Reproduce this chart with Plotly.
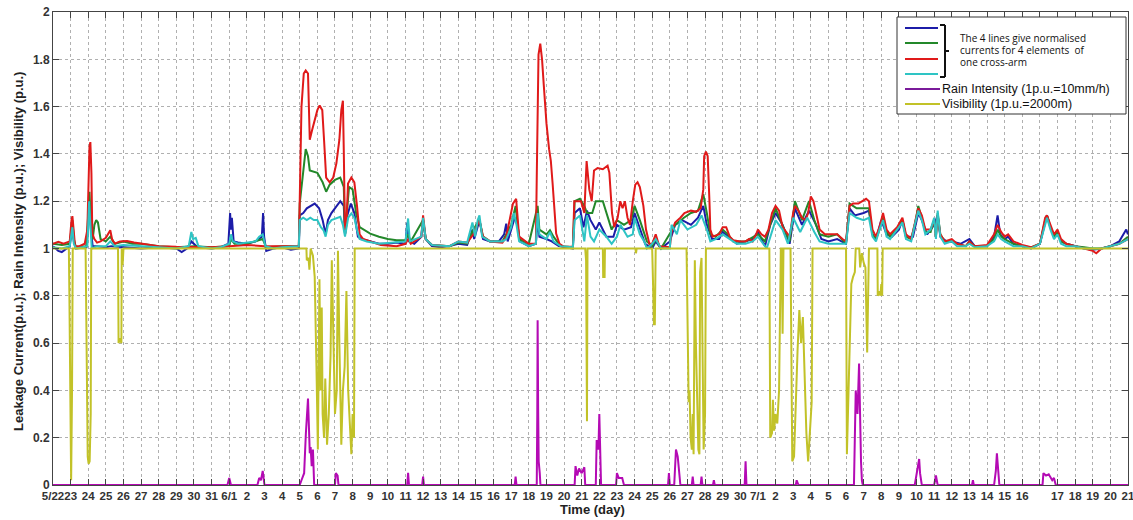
import plotly.graph_objects as go

# ---------------- tick labels (day index 0 = 5/22) ----------------
tick_text = (["5/22"] + [str(d) for d in range(23, 32)] + ["6/1"] +
             [str(d) for d in range(2, 31)] + ["7/1"] +
             [str(d) for d in range(2, 17)] + [""] + [str(d) for d in range(17, 22)])
tick_vals = list(range(len(tick_text)))

y_tick_vals = [0, 0.2, 0.4, 0.6, 0.8, 1.0, 1.2, 1.4, 1.6, 1.8, 2.0]
y_tick_text = ["0", "0.2", "0.4", "0.6", "0.8", "1", "1.2", "1.4", "1.6", "1.8", "2"]

# ---------------- series (day index, value) ----------------
blue_day = [0.0, 0.3, 0.5, 0.8, 0.95, 1.05, 1.1, 1.18, 1.3, 1.9, 2.0, 2.07, 2.15, 2.25, 2.5, 3.0, 3.3, 4.0, 5.0, 6.0,
            7.0, 7.3, 7.6, 7.85, 8.2, 9.0, 9.5, 9.95, 10.05, 10.1, 10.15, 10.25, 10.5, 11.0, 11.5, 11.85, 11.92,
            11.98, 12.1, 12.5, 13.0, 13.5, 13.95, 14.0, 14.2, 14.4, 14.6, 14.85, 15.1, 15.3, 15.47, 15.6, 15.8,
            16.0, 16.3, 16.5, 16.57, 16.7, 16.9, 17.1, 17.3, 17.5, 18.0, 18.5, 19.0, 19.5, 20.0, 20.1, 20.2, 20.5,
            20.9, 21.0, 21.15, 21.5, 22.0, 22.5, 23.0, 23.5, 23.8, 23.9, 24.2, 24.4, 24.8, 25.3, 25.6, 25.72, 25.8,
            26.0, 26.2, 26.35, 26.5, 27.0, 27.4, 27.5, 27.6, 28.0, 28.3, 28.7, 29.5, 29.6, 29.9, 30.1, 30.3, 30.5,
            30.8, 31.0, 31.4, 31.8, 32.0, 32.4, 32.8, 33.0, 33.3, 33.6, 34.0, 34.2, 34.5, 35.0, 35.3, 35.7, 36.2,
            36.6, 36.9, 37.1, 37.4, 37.8, 38.0, 38.3, 38.8, 39.3, 39.7, 40.0, 40.4, 40.7, 41.0, 41.4, 41.8, 42.1,
            42.5, 42.9, 43.3, 43.6, 44.0, 44.5, 45.0, 45.2, 45.5, 46.0, 46.3, 46.5, 46.7, 47.0, 47.3, 47.6, 48.0,
            48.2, 48.4, 48.8, 49.1, 49.3, 49.6, 50.0, 50.2, 50.35, 50.7, 51.0, 51.5, 52.0, 52.3, 53.0, 53.4, 53.6,
            53.75, 54.0, 54.2, 54.5, 55.0, 55.5, 56.0, 56.3, 56.4, 56.6, 56.8, 57.0, 57.2, 57.5, 58.0, 58.5, 59.0,
            59.5, 60.0, 60.5, 60.9, 61.0]
blue_val = [1.01, 0.99, 0.985, 1.0, 1.01, 1.07, 1.1, 1.03, 1.0, 1.005, 1.12, 1.19, 1.08, 1.01, 1.01, 1.005, 1.01,
            1.005, 1.0, 1.005, 1.0, 0.985, 1.0, 1.03, 1.005, 1.0, 1.005, 1.02, 1.15, 1.08, 1.13, 1.03, 1.025, 1.02,
            1.03, 1.05, 1.15, 1.05, 0.99, 1.0, 1.005, 0.995, 1.0, 1.14, 1.15, 1.17, 1.18, 1.19, 1.17, 1.12, 1.06,
            1.12, 1.15, 1.17, 1.2, 1.18, 1.06, 1.14, 1.19, 1.15, 1.05, 1.04, 1.03, 1.02, 1.02, 1.025, 1.02, 1.11,
            1.03, 1.02, 1.05, 1.12, 1.04, 1.01, 1.005, 1.01, 1.02, 1.015, 1.08, 1.04, 1.12, 1.04, 1.03, 1.03, 1.06,
            1.105, 1.03, 1.08, 1.13, 1.1, 1.03, 1.01, 1.02, 1.12, 1.05, 1.04, 1.03, 1.01, 1.0, 1.15, 1.17, 1.09,
            1.16, 1.12, 1.08, 1.11, 1.05, 1.05, 1.1, 1.08, 1.09, 1.15, 1.08, 1.02, 1.0, 1.03, 1.0, 1.03, 1.1, 1.12,
            1.1, 1.13, 1.18, 1.1, 1.04, 1.04, 1.07, 1.05, 1.02, 1.03, 1.04, 1.07, 1.01, 1.1, 1.15, 1.1, 1.02, 1.17,
            1.1, 1.16, 1.1, 1.04, 1.03, 1.04, 1.02, 1.17, 1.14, 1.15, 1.16, 1.06, 1.04, 1.12, 1.06, 1.05, 1.08,
            1.12, 1.05, 1.05, 1.15, 1.12, 1.06, 1.1, 1.14, 1.05, 1.03, 1.03, 1.02, 1.04, 1.01, 1.01, 1.05, 1.14,
            1.06, 1.04, 1.05, 1.02, 1.01, 1.0, 1.02, 1.12, 1.14, 1.09, 1.05, 1.07, 1.03, 1.02, 1.01, 1.0, 0.995,
            1.0, 1.01, 1.03, 1.08, 1.06]

green_day = [0.0, 0.5, 0.95, 1.05, 1.1, 1.18, 1.3, 1.9, 2.0, 2.07, 2.15, 2.25, 2.35, 2.45, 2.55, 2.7, 3.0, 3.25,
             3.5, 4.0, 4.5, 5.0, 6.0, 7.0, 8.0, 9.0, 10.0, 10.1, 10.3, 11.0, 11.9, 12.1, 13.0, 13.95, 14.0, 14.2,
             14.34, 14.47, 14.57, 15.0, 15.3, 15.5, 15.7, 16.0, 16.3, 16.5, 16.57, 16.65, 16.8, 17.0, 17.2, 17.4,
             17.6, 18.0, 18.5, 19.0, 19.5, 20.0, 20.15, 20.3, 21.0, 21.15, 21.5, 22.5, 23.0, 23.5, 23.85, 24.2,
             24.4, 24.8, 25.5, 25.72, 26.0, 26.25, 26.45, 27.0, 27.5, 27.6, 28.0, 28.2, 28.4, 28.8, 29.5, 29.6,
             29.9, 30.15, 30.3, 30.6, 30.8, 31.2, 31.4, 31.7, 32.0, 32.4, 32.8, 33.0, 33.3, 33.7, 34.0, 34.2,
             34.5, 35.0, 35.3, 35.8, 36.2, 36.6, 36.9, 37.1, 37.3, 37.6, 38.0, 38.3, 38.6, 39.3, 40.0, 40.4,
             41.0, 41.5, 41.8, 42.1, 42.5, 42.9, 43.2, 43.5, 44.0, 44.5, 45.0, 45.2, 45.6, 46.0, 46.3, 46.5,
             46.7, 46.9, 47.1, 47.3, 47.5, 47.9, 48.2, 48.4, 48.7, 48.9, 49.1, 49.3, 49.5, 49.8, 50.0, 50.1,
             50.2, 50.35, 50.6, 51.0, 51.3, 51.8, 52.0, 52.3, 53.0, 53.4, 53.6, 53.8, 54.0, 54.5, 55.0, 55.5,
             56.0, 56.3, 56.4, 56.6, 56.8, 57.0, 57.2, 57.5, 58.0, 58.5, 59.0, 59.5, 60.0, 60.5, 61.0]
green_val = [1.02, 1.015, 1.02, 1.08, 1.12, 1.04, 1.005, 1.01, 1.15, 1.24, 1.1, 1.04, 1.1, 1.12, 1.11, 1.04, 1.03,
             1.05, 1.02, 1.03, 1.02, 1.02, 1.01, 1.005, 1.01, 1.005, 1.01, 1.04, 1.02, 1.02, 1.04, 1.005, 1.01,
             1.01, 1.19, 1.32, 1.42, 1.39, 1.33, 1.32, 1.28, 1.24, 1.27, 1.29, 1.3, 1.26, 1.06, 1.13, 1.26, 1.25,
             1.15, 1.09, 1.08, 1.063, 1.05, 1.04, 1.035, 1.035, 1.06, 1.03, 1.12, 1.04, 1.015, 1.01, 1.025, 1.02,
             1.08, 1.12, 1.05, 1.03, 1.03, 1.06, 1.1, 1.18, 1.04, 1.02, 1.18, 1.08, 1.06, 1.077, 1.05, 1.01, 1.005,
             1.2, 1.21, 1.18, 1.15, 1.15, 1.2, 1.2, 1.15, 1.08, 1.12, 1.1, 1.12, 1.18, 1.12, 1.03, 1.01, 1.04,
             1.0, 1.06, 1.1, 1.13, 1.15, 1.16, 1.23, 1.15, 1.06, 1.05, 1.08, 1.06, 1.03, 1.03, 1.06, 1.03, 1.17,
             1.08, 1.03, 1.2, 1.12, 1.2, 1.12, 1.06, 1.05, 1.06, 1.02, 1.19, 1.17, 1.17, 1.17, 1.06, 1.04, 1.08,
             1.13, 1.07, 1.05, 1.08, 1.12, 1.05, 1.04, 1.1, 1.18, 1.13, 1.07, 1.07, 1.12, 1.05, 1.15, 1.06, 1.03,
             1.03, 1.02, 1.01, 1.03, 1.01, 1.01, 1.04, 1.08, 1.05, 1.04, 1.02, 1.01, 1.005, 1.02, 1.12, 1.14,
             1.09, 1.05, 1.07, 1.03, 1.02, 1.01, 1.005, 1.0, 1.0, 1.01, 1.02, 1.05]

red_day = [0.0, 0.3, 0.6, 0.95, 1.05, 1.1, 1.17, 1.25, 1.5, 1.8, 1.95, 2.0, 2.07, 2.12, 2.18, 2.23, 2.35, 2.5, 2.7,
           3.0, 3.15, 3.25, 3.35, 3.5, 3.8, 4.2, 4.6, 5.0, 5.5, 6.0, 7.0, 9.0, 10.0, 11.0, 12.0, 13.95, 14.0,
           14.1, 14.23, 14.34, 14.47, 14.57, 14.7, 14.85, 15.0, 15.13, 15.28, 15.38, 15.5, 15.7, 15.9, 16.08,
           16.25, 16.36, 16.45, 16.5, 16.57, 16.65, 16.74, 16.93, 17.1, 17.25, 17.4, 17.6, 18.0, 18.6, 19.5,
           20.0, 20.15, 20.3, 20.9, 21.0, 21.15, 21.5, 22.5, 23.0, 23.5, 23.85, 24.2, 24.4, 24.8, 25.5, 25.72,
           26.1, 26.28, 26.45, 27.0, 27.4, 27.45, 27.55, 27.65, 27.75, 27.85, 28.0, 28.15, 28.25, 28.35, 28.45,
           28.55, 28.74, 29.0, 29.5, 29.58, 29.96, 30.15, 30.28, 30.43, 30.57, 30.7, 30.9, 31.2, 31.47, 31.57,
           31.72, 31.85, 32.04, 32.19, 32.32, 32.45, 32.6, 32.74, 32.9, 33.04, 33.17, 33.3, 33.5, 33.65, 33.84,
           34.0, 34.2, 34.4, 35.0, 35.1, 35.3, 35.6, 35.83, 36.2, 36.5, 36.75, 36.9, 36.95, 37.05, 37.15, 37.25,
           37.3, 37.43, 37.8, 38.0, 38.2, 38.4, 38.6, 39.0, 39.3, 39.5, 39.7, 39.9, 40.0, 40.2, 40.4, 40.6,
           40.8, 41.0, 41.2, 41.4, 41.8, 42.0, 42.1, 42.3, 42.5, 42.7, 42.85, 43.0, 43.15, 43.3, 43.5, 43.8,
           44.1, 44.5, 44.8, 45.0, 45.2, 45.4, 45.7, 45.95, 46.14, 46.3, 46.5, 46.7, 46.9, 47.1, 47.3, 47.5,
           47.9, 48.2, 48.4, 48.7, 48.9, 49.1, 49.3, 49.5, 49.8, 50.0, 50.1, 50.2, 50.35, 50.6, 51.0, 51.3,
           51.8, 52.0, 52.3, 53.0, 53.4, 53.6, 53.8, 54.0, 54.2, 54.5, 55.0, 55.5, 56.0, 56.3, 56.4, 56.6,
           56.8, 57.0, 57.2, 57.5, 58.0, 58.5, 59.0, 59.2, 59.5, 60.0, 60.5, 61.0]
red_val = [1.02, 1.028, 1.02, 1.03, 1.12, 1.137, 1.08, 1.01, 1.01, 1.02, 1.08, 1.25, 1.43, 1.45, 1.32, 1.063, 1.04,
           1.025, 1.03, 1.045, 1.065, 1.077, 1.04, 1.02, 1.03, 1.032, 1.025, 1.02, 1.015, 1.01, 1.007, 1.005,
           1.01, 1.015, 1.01, 1.01, 1.2, 1.6, 1.74, 1.753, 1.74, 1.46, 1.5, 1.54, 1.585, 1.605, 1.585, 1.46, 1.3,
           1.28, 1.3, 1.36, 1.46, 1.585, 1.625, 1.415, 1.06, 1.1, 1.275, 1.3, 1.28, 1.18, 1.06, 1.04, 1.03, 1.015,
           1.01, 1.02, 1.04, 1.02, 1.05, 1.14, 1.04, 1.015, 1.01, 1.03, 1.025, 1.06, 1.12, 1.05, 1.03, 1.025,
           1.05, 1.19, 1.21, 1.05, 1.02, 1.02, 1.3, 1.82, 1.866, 1.8, 1.69, 1.53, 1.42, 1.37, 1.275, 1.18, 1.063,
           1.02, 1.007, 1.007, 1.2, 1.2, 1.15, 1.37, 1.25, 1.2, 1.33, 1.34, 1.335, 1.35, 1.32, 1.15, 1.09, 1.13,
           1.2, 1.17, 1.2, 1.13, 1.1, 1.2, 1.27, 1.28, 1.26, 1.18, 1.08, 1.02, 1.02, 1.06, 1.01, 1.005, 1.07,
           1.11, 1.13, 1.15, 1.16, 1.155, 1.17, 1.25, 1.39, 1.41, 1.39, 1.2, 1.08, 1.05, 1.06, 1.09, 1.09, 1.05,
           1.035, 1.03, 1.03, 1.04, 1.03, 1.06, 1.08, 1.06, 1.05, 1.08, 1.15, 1.18, 1.16, 1.09, 1.05, 1.15, 1.18,
           1.16, 1.13, 1.12, 1.15, 1.22, 1.2, 1.15, 1.08, 1.06, 1.06, 1.06, 1.04, 1.03, 1.18, 1.19, 1.19, 1.2,
           1.21, 1.2, 1.08, 1.05, 1.09, 1.15, 1.08, 1.06, 1.09, 1.13, 1.06, 1.04, 1.1, 1.17, 1.14, 1.08, 1.08,
           1.12, 1.05, 1.14, 1.06, 1.03, 1.04, 1.02, 1.01, 1.03, 1.01, 1.015, 1.06, 1.1, 1.07, 1.05, 1.06, 1.03,
           1.015, 1.005, 1.02, 1.13, 1.14, 1.1, 1.06, 1.08, 1.04, 1.02, 1.01, 1.0, 0.99, 0.98, 1.0, 1.01, 1.02,
           1.04]

cyan_day = [0.0, 0.5, 0.95, 1.05, 1.1, 1.18, 1.3, 1.95, 2.0, 2.05, 2.12, 2.2, 2.5, 3.0, 3.25, 3.5, 4.0, 5.0, 6.0,
            7.0, 7.7, 7.85, 7.95, 8.1, 8.25, 9.0, 9.5, 10.0, 10.1, 10.2, 10.5, 11.0, 11.5, 11.7, 11.9, 12.05,
            12.5, 13.0, 13.95, 14.0, 14.2, 14.4, 14.6, 14.8, 15.0, 15.2, 15.35, 15.47, 15.6, 15.8, 16.0, 16.3,
            16.45, 16.57, 16.75, 16.93, 17.1, 17.25, 17.4, 17.8, 18.5, 19.5, 20.0, 20.15, 20.25, 20.9, 21.0,
            21.15, 21.5, 22.5, 23.0, 23.5, 23.8, 23.95, 24.1, 24.2, 24.35, 24.8, 25.5, 25.72, 26.0, 26.15, 26.3,
            26.45, 27.0, 27.4, 27.5, 27.6, 28.0, 28.2, 28.4, 28.8, 29.5, 29.6, 29.9, 30.15, 30.3, 30.5, 30.7,
            31.0, 31.4, 31.7, 32.0, 32.2, 32.6, 32.9, 33.0, 33.3, 33.55, 33.7, 34.0, 34.2, 34.5, 35.0, 35.1,
            35.4, 35.6, 36.0, 36.5, 36.8, 37.1, 37.3, 37.6, 38.0, 38.4, 38.8, 39.3, 39.7, 40.0, 40.5, 41.0, 41.4,
            41.7, 42.0, 42.4, 42.8, 43.2, 43.5, 44.0, 45.0, 45.2, 45.6, 46.0, 46.3, 46.5, 46.7, 46.9, 47.1,
            47.3, 47.5, 47.9, 48.2, 48.4, 48.7, 48.9, 49.1, 49.3, 49.5, 49.8, 50.0, 50.1, 50.2, 50.35, 50.6,
            51.0, 51.3, 51.8, 52.0, 52.3, 53.0, 53.4, 53.6, 53.8, 54.0, 54.5, 55.0, 55.5, 56.0, 56.3, 56.4,
            56.6, 56.8, 57.0, 57.2, 57.5, 58.0, 58.5, 59.0, 59.5, 60.0, 60.5, 61.0]
cyan_val = [1.005, 1.0, 1.01, 1.06, 1.09, 1.02, 1.0, 1.01, 1.12, 1.2, 1.1, 1.0, 1.01, 1.01, 1.03, 1.01, 1.015, 1.01,
            1.005, 1.0, 1.01, 1.07, 1.04, 1.045, 1.01, 1.0, 1.005, 1.02, 1.06, 1.03, 1.02, 1.025, 1.03, 1.05, 1.06,
            1.01, 1.0, 1.005, 1.01, 1.12, 1.13, 1.12, 1.13, 1.12, 1.12, 1.09, 1.077, 1.05, 1.1, 1.12, 1.125, 1.134,
            1.1, 1.05, 1.13, 1.148, 1.13, 1.077, 1.04, 1.03, 1.02, 1.025, 1.03, 1.127, 1.03, 1.05, 1.13, 1.04,
            1.015, 1.01, 1.03, 1.025, 1.11, 1.05, 1.12, 1.14, 1.05, 1.03, 1.03, 1.04, 1.09, 1.15, 1.1, 1.03, 1.01,
            1.02, 1.15, 1.06, 1.04, 1.07, 1.03, 1.01, 1.005, 1.12, 1.14, 1.03, 1.14, 1.05, 1.03, 1.08, 1.05, 1.02,
            1.05, 1.1, 1.05, 1.06, 1.13, 1.06, 1.03, 1.0, 1.02, 1.04, 1.0, 1.0, 1.1, 1.06, 1.12, 1.08, 1.1, 1.14,
            1.08, 1.03, 1.04, 1.06, 1.04, 1.02, 1.02, 1.03, 1.05, 1.0, 1.12, 1.08, 1.02, 1.13, 1.07, 1.13, 1.07,
            1.03, 1.02, 1.02, 1.15, 1.13, 1.12, 1.13, 1.05, 1.03, 1.08, 1.12, 1.05, 1.04, 1.08, 1.11, 1.04, 1.03,
            1.1, 1.16, 1.12, 1.06, 1.08, 1.13, 1.04, 1.16, 1.05, 1.02, 1.03, 1.01, 1.01, 1.02, 1.005, 1.01, 1.03,
            1.06, 1.04, 1.03, 1.01, 1.01, 1.0, 1.02, 1.1, 1.13, 1.08, 1.04, 1.06, 1.02, 1.01, 1.01, 1.0, 1.0, 1.0,
            1.01, 1.02, 1.04]

rain_day = [0.0, 9.9, 10.0, 10.1, 11.6, 11.7, 11.8, 11.9, 12.0, 14.0, 14.1, 14.25, 14.35, 14.47, 14.52, 14.57,
            14.62, 14.68, 14.75, 14.82, 16.0, 16.05, 16.15, 16.2, 20.1, 20.15, 20.2, 20.95, 21.0, 21.05, 26.2,
            26.25, 26.3, 27.45, 27.48, 27.5, 27.53, 27.56, 27.62, 27.66, 29.6, 29.65, 29.75, 29.85, 30.0, 30.15,
            30.2, 30.8, 30.85, 30.95, 31.0, 31.05, 31.1, 31.95, 32.0, 32.1, 32.3, 32.4, 34.9, 34.95, 35.0, 35.25,
            35.35, 35.45, 35.5, 35.6, 36.25, 36.3, 36.35, 36.75, 36.8, 36.85, 37.45, 37.5, 37.55, 39.25, 39.3,
            39.35, 42.15, 42.2, 42.3, 45.45, 45.55, 45.65, 45.74, 45.8, 45.85, 45.9, 45.95, 48.9, 49.0, 49.15,
            49.2, 49.3, 50.0, 50.1, 50.2, 52.15, 52.2, 52.25, 53.4, 53.5, 53.56, 53.65, 53.7, 56.15, 56.2,
            56.35, 56.5, 56.7, 56.8, 56.9, 61.0]
rain_val = [0.0, 0.0, 0.03, 0.0, 0.0, 0.03, 0.02, 0.06, 0.0, 0.0, 0.02, 0.05, 0.22, 0.366, 0.25, 0.134, 0.16, 0.08,
            0.15, 0.0, 0.0, 0.05, 0.04, 0.0, 0.0, 0.052, 0.0, 0.0, 0.035, 0.0, 0.0, 0.035, 0.0, 0.0, 0.3, 0.697,
            0.32, 0.1, 0.05, 0.0, 0.0, 0.08, 0.04, 0.07, 0.05, 0.075, 0.0, 0.0, 0.19, 0.15, 0.3, 0.05, 0.0, 0.0,
            0.05, 0.03, 0.03, 0.0, 0.0, 0.05, 0.0, 0.0, 0.15, 0.12, 0.08, 0.0, 0.0, 0.035, 0.0, 0.0, 0.035, 0.0,
            0.0, 0.02, 0.0, 0.0, 0.1, 0.0, 0.0, 0.02, 0.0, 0.0, 0.4, 0.3, 0.514, 0.25, 0.1, 0.02, 0.0, 0.0, 0.05,
            0.11, 0.05, 0.0, 0.0, 0.04, 0.0, 0.0, 0.02, 0.0, 0.0, 0.06, 0.134, 0.05, 0.0, 0.0, 0.05, 0.04, 0.045,
            0.02, 0.03, 0.0, 0.0]

vis_day = [0.0, 0.9, 0.93, 0.97, 1.03, 1.08, 1.12, 1.85, 1.89, 1.93, 1.97, 2.02, 2.08, 2.14, 2.17, 3.69, 3.72,
           3.8, 3.88, 3.9, 3.95, 4.0, 14.38, 14.4, 14.5, 14.55, 14.62, 14.75, 14.85, 14.95, 15.03, 15.08, 15.12,
           15.18, 15.25, 15.3, 15.38, 15.45, 15.55, 15.65, 15.75, 15.82, 15.9, 16.0, 16.1, 16.17, 16.25, 16.36,
           16.45, 16.55, 16.65, 16.75, 16.93, 17.0, 17.08, 17.12, 30.2, 30.25, 30.3, 30.33, 31.2, 31.22, 31.3,
           31.32, 33.05, 33.08, 33.12, 34.0, 34.05, 34.1, 34.15, 34.2, 35.95, 36.0, 36.07, 36.12, 36.18, 36.25,
           36.3, 36.35, 36.42, 36.48, 36.55, 36.62, 36.68, 36.72, 36.8, 36.85, 36.92, 37.0, 37.05, 40.65, 40.7,
           40.8, 40.85, 40.92, 41.0, 41.1, 41.2, 41.3, 41.35, 41.4, 41.45, 41.85, 41.9, 41.95, 42.05, 42.15,
           42.25, 42.35, 42.45, 42.55, 42.65, 42.75, 42.85, 42.95, 43.05, 43.1, 45.0, 45.05, 45.2, 45.3, 45.4,
           45.5, 45.55, 45.75, 45.8, 45.9, 46.0, 46.1, 46.2, 46.25, 46.3, 46.78, 46.8, 46.9, 46.95, 47.0, 47.05,
           47.08, 61.0]
vis_val = [1.0, 1.0, 0.8, 0.5, 0.02, 0.4, 1.0, 1.0, 0.7, 0.3, 0.12, 0.09, 0.1, 0.3, 1.0, 1.0, 0.6, 0.62, 0.6, 1.0,
           0.93, 1.0, 1.0, 0.95, 0.96, 0.91, 1.0, 0.97, 0.88, 0.5, 0.15, 0.55, 0.87, 0.4, 0.75, 0.3, 0.2, 0.45,
           0.17, 0.3, 0.55, 0.95, 0.6, 0.3, 0.4, 0.99, 0.6, 0.17, 0.4, 0.5, 0.82, 0.4, 0.13, 0.3, 0.2, 1.0, 1.0,
           0.95, 0.27, 1.0, 1.0, 0.88, 0.88, 1.0, 1.0, 0.98, 1.0, 1.0, 0.85, 0.68, 0.68, 1.0, 1.0, 0.6, 0.35, 0.4,
           0.2, 0.15, 0.3, 0.13, 0.95, 0.6, 0.3, 0.15, 0.13, 0.9, 0.96, 0.5, 0.15, 0.3, 1.0, 1.0, 0.2, 0.22, 0.36,
           0.23, 0.3, 0.26, 0.4, 1.0, 1.0, 0.64, 1.0, 1.0, 0.3, 0.1, 0.12, 0.4, 0.57, 0.74, 0.6, 0.71, 0.45, 0.22,
           0.1, 0.22, 0.35, 1.0, 1.0, 0.13, 0.5, 0.85, 0.88, 0.9, 1.0, 1.0, 0.92, 0.98, 0.94, 0.92, 0.56, 0.92,
           1.0, 1.0, 0.8, 0.82, 0.8, 0.85, 0.8, 1.0, 1.0]

series = [
    (blue_day, blue_val, "#1c1ca8"),
    (green_day, green_val, "#23882a"),
    (red_day, red_val, "#e01a1a"),
    (cyan_day, cyan_val, "#2ec4c4"),
    (rain_day, rain_val, "#b40ab4"),
    (vis_day, vis_val, "#c2c228"),
]

fig = go.Figure()
for xs, ys, col in series:
    fig.add_trace(go.Scatter(x=xs, y=ys, mode="lines", line=dict(color=col, width=2),
                             showlegend=False, hoverinfo="skip"))

W, H = 1133, 520
ML, MR, MT, MB = 53, 5, 12, 35
PW, PH = W - ML - MR, H - MT - MB


def px(x):
    return (x - ML) / PW


def py(y):
    return (H - MB - y) / PH


axis_font = dict(family="Liberation Sans, Arial, sans-serif", size=12, color="#333333", weight="bold")
xaxis_font = dict(family="Liberation Sans, Arial, sans-serif", size=11.5, color="#333333", weight="bold")
fig.update_layout(
    width=W, height=H,
    margin=dict(l=ML, r=MR, t=MT, b=MB),
    paper_bgcolor="white", plot_bgcolor="white",
    xaxis=dict(range=[0, 61], tickmode="array", tickvals=tick_vals, ticktext=tick_text, tickangle=0,
               ticklabeloverflow="allow",
               showgrid=True, gridcolor="#b0b0b0", griddash="dot", gridwidth=1,
               ticks="inside", ticklen=6, tickcolor="#444", showline=True, linecolor="#444",
               linewidth=1, mirror="ticks", zeroline=False, tickfont=xaxis_font, automargin=False),
    yaxis=dict(range=[0, 2], tickmode="array", tickvals=y_tick_vals, ticktext=y_tick_text,
               ticklabeloverflow="allow",
               showgrid=True, gridcolor="#b0b0b0", griddash="dot", gridwidth=1,
               ticks="inside", ticklen=6, tickcolor="#444", showline=True, linecolor="#444",
               linewidth=1, mirror="ticks", zeroline=False, tickfont=axis_font, automargin=False),
)

title_font = dict(family="Liberation Sans, Arial, sans-serif", size=13, color="#222222", weight="bold")
annotations = [
    dict(text="Time (day)", x=px(592), y=py(510), xref="paper", yref="paper", showarrow=False,
         font=title_font, xanchor="center", yanchor="middle"),
    dict(text="Leakage Current(p.u.); Rain Intensity (p.u.); Visibility (p.u.)", x=px(18), y=py(252),
         xref="paper", yref="paper", showarrow=False, textangle=-90, font=title_font,
         xanchor="center", yanchor="middle"),
]

# ---- custom legend box ----
shapes = [dict(type="rect", xref="paper", yref="paper", x0=px(897), x1=px(1126), y0=py(17), y1=py(114),
               line=dict(color="#333", width=1), fillcolor="white", layer="above")]
leg_lines = [(28, "#1c1ca8"), (43, "#23882a"), (59, "#e01a1a"), (74, "#2ec4c4")]
for yy, col in leg_lines:
    shapes.append(dict(type="line", xref="paper", yref="paper", x0=px(905), x1=px(938), y0=py(yy), y1=py(yy),
                       line=dict(color=col, width=2), layer="above"))
# bracket
for seg in [(940, 945, 25, 25), (945, 945, 25, 77), (940, 945, 77, 77), (945, 949, 51, 51)]:
    shapes.append(dict(type="line", xref="paper", yref="paper", x0=px(seg[0]), x1=px(seg[1]),
                       y0=py(seg[2]), y1=py(seg[3]), line=dict(color="#111", width=2), layer="above"))
shapes.append(dict(type="line", xref="paper", yref="paper", x0=px(905), x1=px(940), y0=py(89), y1=py(89),
                   line=dict(color="#7a1a9a", width=2), layer="above"))
shapes.append(dict(type="line", xref="paper", yref="paper", x0=px(905), x1=px(940), y0=py(104), y1=py(104),
                   line=dict(color="#c2c228", width=2), layer="above"))

small_font = dict(family="Open Sans, Liberation Sans, sans-serif", size=10, color="#111")
for txt, yy in [("The 4 lines give normalised", 38), ("currents for 4 elements  of", 50), ("one cross-arm", 62)]:
    annotations.append(dict(text=txt, x=px(958), y=py(yy), xref="paper", yref="paper", showarrow=False,
                            font=small_font, xanchor="left", yanchor="middle"))
leg_font = dict(family="Liberation Sans, Arial, sans-serif", size=12.5, color="#111")
for txt, yy in [("Rain Intensity (1p.u.=10mm/h)", 89), ("Visibility (1p.u.=2000m)", 104)]:
    annotations.append(dict(text=txt, x=px(940), y=py(yy), xref="paper", yref="paper", showarrow=False,
                            font=leg_font, xanchor="left", yanchor="middle"))

fig.update_layout(shapes=shapes, annotations=annotations)
# remove the browser's default 8px body margin so the figure sits at the page origin
fig.write_html("out.html", config={"displayModeBar": False},
               post_script="document.body.style.margin='0px';")
